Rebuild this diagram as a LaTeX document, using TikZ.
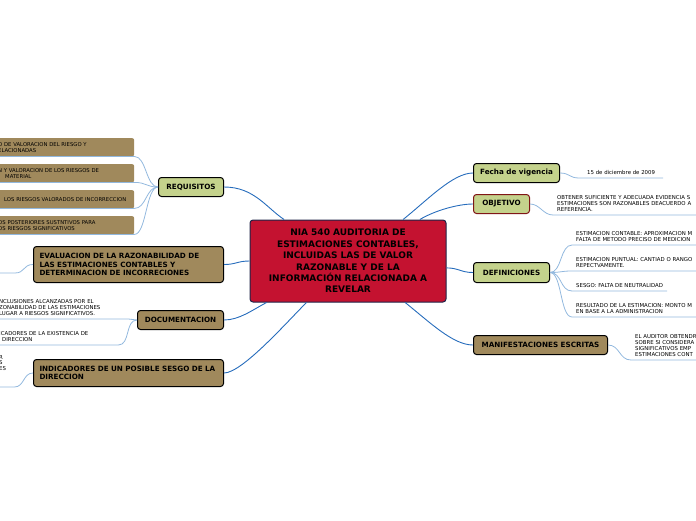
\documentclass[tikz,border=0pt]{standalone}
\usepackage{fontspec}
\setmainfont{DejaVu Sans}
\definecolor{rootfill}{RGB}{196,18,48}
\definecolor{rootedge}{RGB}{30,36,72}
\definecolor{topicgreen}{RGB}{196,210,140}
\definecolor{topicbrown}{RGB}{160,137,92}
\definecolor{objedge}{RGB}{128,22,22}
\definecolor{mainlink}{RGB}{38,108,188}
\definecolor{leaflink}{RGB}{146,184,222}

\begin{document}
\begin{tikzpicture}[x=1pt, y=-1pt,
  root/.style={draw=rootedge, fill=rootfill, line width=1pt, rounded corners=3pt,
    minimum width=196pt, minimum height=82pt, inner sep=0pt, align=center,
    font=\bfseries\fontsize{9}{11.4}\selectfont},
  topic/.style={draw=black, line width=1pt, rounded corners=3pt, anchor=north west,
    inner sep=0pt, align=center, font=\bfseries\fontsize{7.2}{8.7}\selectfont},
  greentopic/.style={topic, fill=topicgreen},
  browntopic/.style={topic, fill=topicbrown},
  widetopic/.style={browntopic, inner xsep=6pt, text width=178pt, align=left},
  bar/.style={fill=topicbrown, rounded corners=2pt, anchor=north west,
    minimum width=142pt, minimum height=18pt, inner xsep=6pt, inner ysep=0pt,
    text width=130pt, align=left, font=\fontsize{5.3}{5.8}\selectfont},
  leaf/.style={anchor=south west, inner xsep=4pt, inner ysep=3.5pt, align=left,
    font=\fontsize{5.4}{5.8}\selectfont},
  mainarr/.style={draw=mainlink, line width=0.9pt},
  leafarr/.style={draw=leaflink, line width=0.8pt}]
\useasboundingbox (0,0) rectangle (696,520);
\clip (0,0) rectangle (696,520);

% central topic
\node[root] (root) at (348,261)
  {NIA 540 AUDITORIA DE\\ESTIMACIONES CONTABLES,\\INCLUIDAS LAS DE VALOR\\
   RAZONABLE Y DE LA\\INFORMACIÓN RELACIONADA A\\REVELAR};

% right branch
\node[greentopic, minimum width=86pt, minimum height=19pt] (fecha) at (473,163) {Fecha de vigencia};
\node[greentopic, draw=objedge, minimum width=56pt, minimum height=19pt] (objetivo) at (473,194) {OBJETIVO};
\node[greentopic, minimum width=76pt, minimum height=20pt] (definiciones) at (473,262) {DEFINICIONES};
\node[browntopic, minimum width=134pt, minimum height=19pt] (manifestaciones) at (473,335) {MANIFESTACIONES ESCRITAS};

\node[leaf, inner xsep=8pt] (fechaA) at (579,178) {15 de diciembre de 2009};
\node[leaf, text width=160pt] (objetivoA) at (553,215)
  {OBTENER SUFICIENTE Y ADECUADA EVIDENCIA S\\ESTIMACIONES SON RAZONABLES DEACUERDO A\\REFERENCIA.};
\node[leaf, text width=160pt] (defA) at (572,245)
  {ESTIMACION CONTABLE: APROXIMACION M\\FALTA DE METODO PRECISO DE MEDICION};
\node[leaf, text width=160pt] (defB) at (572,271)
  {ESTIMACION PUNTUAL: CANTIAD O RANGO\\REPECTVAMENTE.};
\node[leaf] (defC) at (572,291) {SESGO: FALTA DE NEUTRALIDAD};
\node[leaf, text width=160pt] (defD) at (572,317)
  {RESULTADO DE LA ESTIMACION: MONTO M\\EN BASE A LA ADMINISTRACION};
\node[leaf, text width=160pt] (manifestacionesA) at (631,360)
  {EL AUDITOR OBTENDR\\SOBRE SI CONSIDERA\\SIGNIFICATIVOS EMP\\ESTIMACIONES CONT};

% left branch
\node[greentopic, minimum width=65pt, minimum height=19pt] (requisitos) at (158,177) {REQUISITOS};
\node[widetopic, minimum height=36pt] (evaluacion) at (33,246)
  {EVALUACION DE LA RAZONABILIDAD DE\\LAS ESTIMACIONES CONTABLES Y\\DETERMINACION DE INCORRECIONES};
\node[browntopic, minimum width=86pt, minimum height=19pt] (documentacion) at (137,310) {DOCUMENTACION};
\node[widetopic, minimum height=27pt] (indicadores) at (33,359)
  {INDICADORES DE UN POSIBLE SESGO DE LA\\DIRECCION};

\node[bar] (reqA) at (-8,138) {O DE VALORACION DEL RIESGO Y\\ELACIONADAS};
\node[bar] (reqB) at (-8,164) {N Y VALORACION DE LOS RIESGOS DE\\\hspace*{7pt}MATERIAL};
\node[bar] (reqC) at (-8,190) {\mbox{\hspace*{6pt}LOS RIESGOS VALORADOS DE INCORRECCION}};
\node[bar] (reqD) at (-8,216) {OS POSTERIORES SUSTNTIVOS PARA\\OS RIESGOS SIGNIFICATIVOS};

\coordinate (evaluacionA) at (15,273);
\coordinate (evaluacionAend) at (-5,273);
\node[leaf, text width=125pt] (documentacionA) at (-5,319)
  {NCLUSIONES ALCANZADAS POR EL\\ZONABILIDAD DE LAS ESTIMACIONES\\LUGAR A RIESGOS SIGNIFICATIVOS.};
\node[leaf, text width=115pt] (documentacionB) at (-5,345)
  {ICADORES DE LA EXISTENCIA DE\\\hspace*{3pt}DIRECCION};
\node[leaf, text width=11pt, inner ysep=16pt] (indicadoresA) at (-5,387) {R\\S\\ES};

% main links
\draw[mainarr] (requisitos.east) .. controls +(30,0) and +(-18,-12) .. (root.147);
\draw[mainarr] (evaluacion.east) .. controls +(12,0) and +(-12,0) .. (root.west);
\draw[mainarr] (documentacion.east) .. controls +(15,0) and +(-15,8) .. (root.207);
\draw[mainarr] (indicadores.east) .. controls +(18,0) and +(-20,20) .. (root.225);
\draw[mainarr] (root.37) .. controls +(25,-20) and +(-20,0) .. (fecha.west);
\draw[mainarr] (root.30) .. controls +(15,-9) and +(-15,0) .. (objetivo.west);
\draw[mainarr] (root.-4) .. controls +(12,0) and +(-12,0) .. (definiciones.west);
\draw[mainarr] (root.-36) .. controls +(25,20) and +(-20,0) .. (manifestaciones.west);

% leaf links
\draw[leafarr] (fecha.east) .. controls +(10,0) and +(-10,0) .. (fechaA.south west) -- (fechaA.south east);
\draw[leafarr] (objetivo.east) .. controls +(10,0) and +(-10,0) .. (objetivoA.south west) -- (objetivoA.south east);
\foreach \d in {defA,defB,defC,defD}
  \draw[leafarr] (definiciones.east) .. controls +(12,0) and +(-12,0) .. (\d.south west) -- (\d.south east);
\draw[leafarr] (manifestaciones.east) .. controls +(12,0) and +(-12,0) .. (manifestacionesA.south west) -- (manifestacionesA.south east);
\foreach \r in {reqA,reqB,reqC,reqD}
  \draw[leafarr] (requisitos.west) .. controls +(-12,0) and +(12,0) .. (\r.south east) -- (\r.south west);
\draw[leafarr] (evaluacion.west) .. controls +(-10,0) and +(10,0) .. (evaluacionA) -- (evaluacionAend);
\draw[leafarr] (documentacion.west) .. controls +(-5,0) and +(5,0) .. (documentacionA.south east) -- (documentacionA.south west);
\draw[leafarr] (documentacion.west) .. controls +(-12,0) and +(12,0) .. (documentacionB.south east) -- (documentacionB.south west);
\draw[leafarr] (indicadores.west) .. controls +(-10,0) and +(10,0) .. (indicadoresA.south east) -- (indicadoresA.south west);
\end{tikzpicture}
\end{document}
